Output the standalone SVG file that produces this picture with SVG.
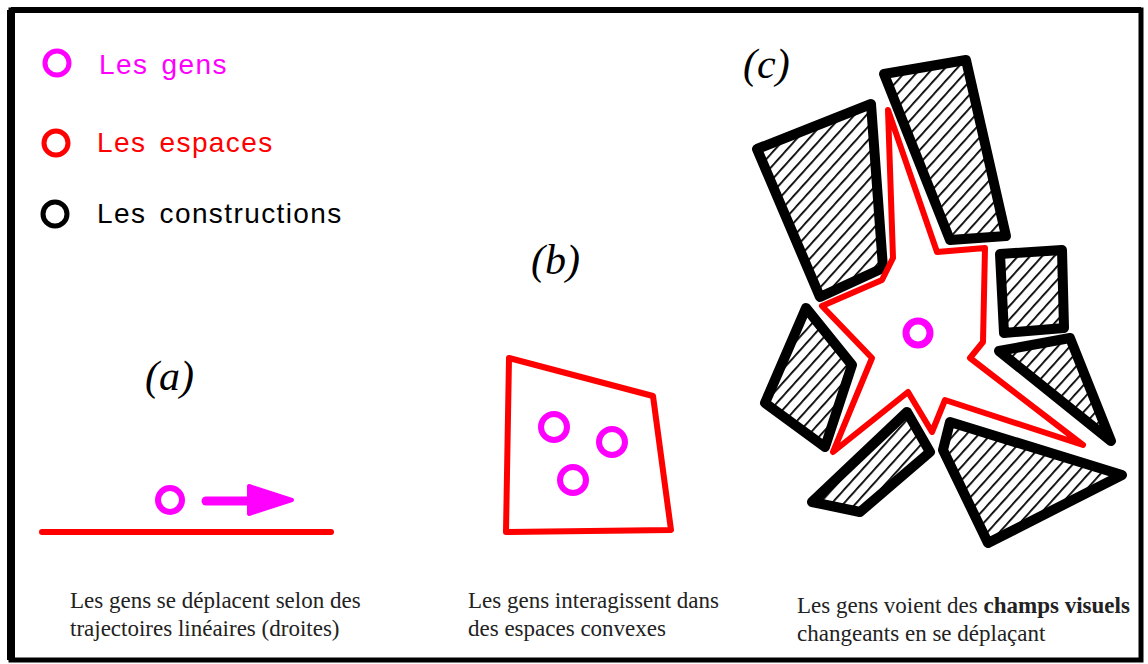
<svg xmlns="http://www.w3.org/2000/svg" width="1148" height="664" viewBox="0 0 1148 664">
<defs>
<pattern id="hatch" patternUnits="userSpaceOnUse" width="9" height="9" patternTransform="rotate(42)">
<line x1="0" y1="0" x2="0" y2="9" stroke="#000" stroke-width="3.6"/>
</pattern>
</defs>
<style>
.leg{font-family:"Liberation Sans",Arial,sans-serif;font-size:28px;letter-spacing:1.4px;word-spacing:4px}
.lab{font-family:"Liberation Serif","Times New Roman",serif;font-style:italic;font-size:42px;fill:#000}
.cap{font-family:"Liberation Serif","Times New Roman",serif;font-size:23px;fill:#222}
.bld{fill:url(#hatch);stroke:#000;stroke-width:10;stroke-linejoin:round}
.sp{fill:none;stroke:#ff0000;stroke-width:6;stroke-linejoin:round}
.pp{fill:none;stroke:#ff00ff;stroke-width:6}
</style>
<rect x="0" y="0" width="1148" height="664" fill="#fff"/>
<g id="frame">
<path d="M11,660 L11,10 L1141,10 L1141,660 Z" fill="none" stroke="#000" stroke-width="5"/>
<line x1="11" y1="10" x2="11" y2="660" stroke="#000" stroke-width="8"/>
<line x1="11" y1="10" x2="1141" y2="10" stroke="#000" stroke-width="6"/>
</g>
<g id="legend">
<circle cx="57" cy="63" r="12" fill="none" stroke="#ff00ff" stroke-width="5"/>
<text x="99" y="74" class="leg" fill="#ff00ff">Les gens</text>
<circle cx="56" cy="143" r="12" fill="none" stroke="#ff0000" stroke-width="5"/>
<text x="97" y="152" class="leg" fill="#ff0000">Les espaces</text>
<circle cx="55" cy="214" r="12" fill="none" stroke="#000" stroke-width="5"/>
<text x="97" y="223" class="leg" fill="#000">Les constructions</text>
</g>
<g id="panel-a">
<text x="145" y="390" class="lab">(a)</text>
<line x1="42" y1="532" x2="331" y2="532" stroke="#ff0000" stroke-width="6" stroke-linecap="round"/>
<circle cx="170" cy="500" r="12" class="pp"/>
<line x1="206" y1="501" x2="252" y2="501" stroke="#ff00ff" stroke-width="9" stroke-linecap="round"/>
<polygon points="249,486 292,500 249,514" fill="#ff00ff" stroke="#ff00ff" stroke-width="4" stroke-linejoin="round"/>
<text x="70" y="608" class="cap">Les gens se déplacent selon des</text>
<text x="70" y="636" class="cap">trajectoires linéaires (droites)</text>
</g>
<g id="panel-b">
<text x="531" y="274" class="lab">(b)</text>
<polygon points="509,358 653,396 671,530 506,532" class="sp"/>
<circle cx="554" cy="427" r="13" class="pp"/>
<circle cx="612" cy="442" r="13" class="pp"/>
<circle cx="573" cy="480" r="13" class="pp"/>
<text x="468" y="608" class="cap">Les gens interagissent dans</text>
<text x="468" y="636" class="cap">des espaces convexes</text>
</g>
<g id="panel-c">
<text x="743" y="78" class="lab">(c)</text>
<polygon class="bld" points="757,149 871,104 883,268 820,297"/>
<polygon class="bld" points="884,74 966,60 1006,236 950,240"/>
<polygon class="bld" points="1000,254 1062,250 1064,328 1004,333"/>
<polygon class="bld" points="999,351 1070,338 1111,441"/>
<polygon class="bld" points="806,308 852,365 825,447 765,403"/>
<polygon class="bld" points="907,412 930,452 860,512 812,502"/>
<polygon class="bld" points="950,422 1122,475 988,543 943,450"/>
<polygon class="sp" points="888,110 937,252 985,248 983,342 970,358 1083,445 945,400 932,432 908,392 833,452 872,358 822,306 882,280 893,258"/>
<circle cx="918" cy="333" r="12" fill="none" stroke="#ff00ff" stroke-width="7"/>
<text x="797" y="613" class="cap">Les gens voient des <tspan font-weight="bold">champs visuels</tspan></text>
<text x="797" y="641" class="cap">changeants en se déplaçant</text>
</g>
</svg>
